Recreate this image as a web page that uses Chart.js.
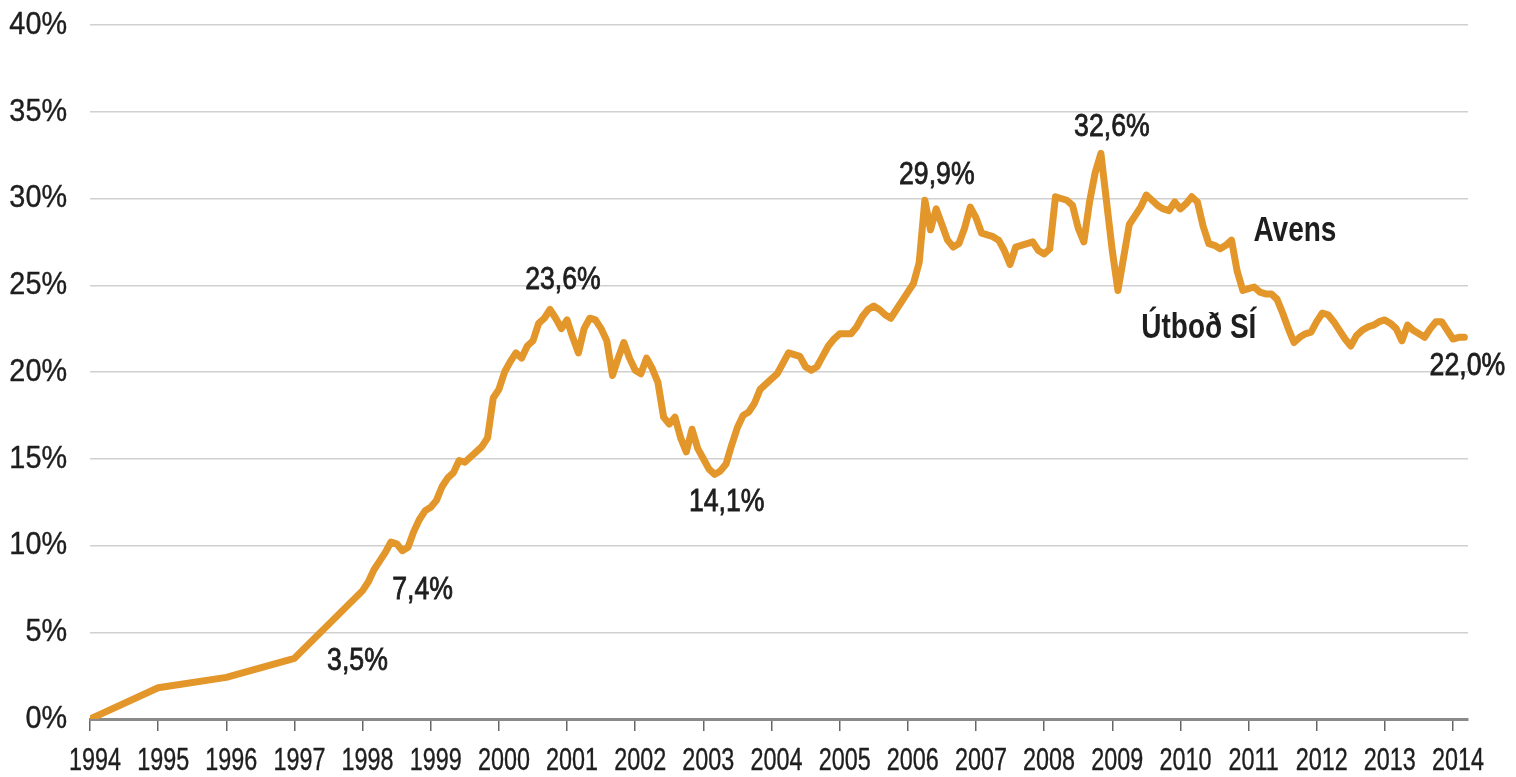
<!DOCTYPE html>
<html lang="is">
<head>
<meta charset="utf-8">
<title>Hlutdeild</title>
<script src="https://cdn.jsdelivr.net/npm/chart.js@4/dist/chart.umd.min.js"></script>
<style>
  html, body { margin: 0; background: #fff; }
  #wrap { width: 1516px; height: 777px; }
</style>
</head>
<body>
<div id="wrap"><canvas id="chart" width="1516" height="777"></canvas></div>
<script>
const months = [
  '1994-01','1995-01','1996-01','1997-01',
  '1998-01','1998-02','1998-03','1998-04','1998-05','1998-06','1998-07','1998-08','1998-09','1998-10','1998-11','1998-12',
  '1999-01','1999-02','1999-03','1999-04','1999-05','1999-06','1999-07','1999-08','1999-09','1999-10','1999-11','1999-12',
  '2000-01','2000-02','2000-03','2000-04','2000-05','2000-06','2000-07','2000-08','2000-09','2000-10','2000-11','2000-12',
  '2001-01','2001-02','2001-03','2001-04','2001-05','2001-06','2001-07','2001-08','2001-09','2001-10','2001-11','2001-12',
  '2002-01','2002-02','2002-03','2002-04','2002-05','2002-06','2002-07','2002-08','2002-09','2002-10','2002-11','2002-12',
  '2003-01','2003-02','2003-03','2003-04','2003-05','2003-06','2003-07','2003-08','2003-09','2003-10','2003-11','2003-12',
  '2004-01','2004-02','2004-03','2004-04','2004-05','2004-06','2004-07','2004-08','2004-09','2004-10','2004-11','2004-12',
  '2005-01','2005-02','2005-03','2005-04','2005-05','2005-06','2005-07','2005-08','2005-09','2005-10','2005-11','2005-12',
  '2006-01','2006-02','2006-03','2006-04','2006-05','2006-06','2006-07','2006-08','2006-09','2006-10','2006-11','2006-12',
  '2007-01','2007-02','2007-03','2007-04','2007-05','2007-06','2007-07','2007-08','2007-09','2007-10','2007-11','2007-12',
  '2008-01','2008-02','2008-03','2008-04','2008-05','2008-06','2008-07','2008-08','2008-09','2008-10','2008-11','2008-12',
  '2009-01','2009-02','2009-03','2009-04','2009-05','2009-06','2009-07','2009-08','2009-09','2009-10','2009-11','2009-12',
  '2010-01','2010-02','2010-03','2010-04','2010-05','2010-06','2010-07','2010-08','2010-09','2010-10','2010-11','2010-12',
  '2011-01','2011-02','2011-03','2011-04','2011-05','2011-06','2011-07','2011-08','2011-09','2011-10','2011-11','2011-12',
  '2012-01','2012-02','2012-03','2012-04','2012-05','2012-06','2012-07','2012-08','2012-09','2012-10','2012-11','2012-12',
  '2013-01','2013-02','2013-03','2013-04','2013-05','2013-06','2013-07','2013-08','2013-09','2013-10','2013-11','2013-12',
  '2014-01','2014-02','2014-03'
];

const share = [
  0, 1.8, 2.4, 3.5,
  7.4, 7.9, 8.6, 9.1, 9.6, 10.2, 10.1, 9.7, 9.9, 10.8, 11.5, 12.0,
  12.2, 12.6, 13.4, 13.9, 14.2, 14.9, 14.8, 15.1, 15.4, 15.7, 16.2, 18.5,
  19.0, 20.0, 20.6, 21.1, 20.8, 21.5, 21.8, 22.8, 23.1, 23.6, 23.1, 22.5,
  23.0, 22.0, 21.1, 22.5, 23.1, 23.0, 22.5, 21.8, 19.8, 20.8, 21.7, 20.8,
  20.1, 19.9, 20.8, 20.2, 19.4, 17.4, 17.0, 17.4, 16.2, 15.4, 16.7, 15.6,
  15.0, 14.4, 14.1, 14.3, 14.7, 15.8, 16.8, 17.5, 17.7, 18.2, 19.0, 19.3,
  19.6, 19.9, 20.5, 21.1, 21.0, 20.9, 20.3, 20.1, 20.3, 20.9, 21.5, 21.9,
  22.2, 22.2, 22.2, 22.6, 23.2, 23.6, 23.8, 23.6, 23.3, 23.1, 23.6, 24.1,
  24.6, 25.1, 26.3, 29.9, 28.2, 29.4, 28.5, 27.6, 27.2, 27.4, 28.3, 29.5,
  28.9, 28.0, 27.9, 27.8, 27.6, 27.0, 26.2, 27.2, 27.3, 27.4, 27.5, 27.0,
  26.8, 27.1, 30.1, 30.0, 29.9, 29.6, 28.3, 27.5, 29.8, 31.5, 32.6, 29.8,
  27.0, 24.7, 26.6, 28.5, 29.0, 29.5, 30.2, 29.9, 29.6, 29.4, 29.3, 29.8,
  29.4, 29.7, 30.1, 29.8, 28.4, 27.4, 27.3, 27.1, 27.3, 27.6, 25.8, 24.7,
  24.8, 24.9, 24.6, 24.5, 24.5, 24.2, 23.4, 22.5, 21.7, 22.0, 22.2, 22.3,
  22.9, 23.4, 23.3, 22.9, 22.4, 21.9, 21.5, 22.1, 22.4, 22.6, 22.7, 22.9,
  23.0, 22.8, 22.5, 21.8, 22.7, 22.4, 22.2, 22.0, 22.5, 22.9, 22.9, 22.4,
  21.9, 22.0, 22.0
];

const yearTicks = [1994,1995,1996,1997,1998,1999,2000,2001,2002,2003,2004,
                   2005,2006,2007,2008,2009,2010,2011,2012,2013,2014];
const pctTicks = [0, 5, 10, 15, 20, 25, 30, 35, 40];

// months whose value is written next to the line
const callouts = ['1997-01','1998-01','2000-10','2003-03','2006-04','2008-11','2014-03'];
const calloutOffset = {
  '1997-01': [63, 3], '1998-01': [60, 0], '2000-10': [13, -29], '2003-03': [12, 28],
  '2006-04': [12, -25], '2008-11': [11, -26], '2014-03': [3, 29]
};

// free text notes, placed in data units (year, percent)
const notes = [
  { text: 'Avens',    year: 2011.68, pct: 28.1 },
  { text: 'Útboð SÍ', year: 2010.27, pct: 22.5 }
];

const FONT = "'Liberation Sans', Arial, sans-serif";
const INK = '#1e1e1e';
const LINE = '#e3962a';

const toYear = (s) => { const [y, m] = s.split('-').map(Number); return y + (m - 1) / 12; };
const fmt = (v) => v.toFixed(1).replace('.', ',') + '%';

// condensed look: squeeze text horizontally around its anchor, thin stroke for weight
function narrowText(ctx, text, x, y, font, squeeze, align, heavy) {
  ctx.save();
  ctx.font = font;
  ctx.textAlign = align || 'center';
  ctx.textBaseline = 'middle';
  ctx.translate(x, y);
  ctx.scale(squeeze, 1);
  ctx.fillText(text, 0, 0);
  if (heavy) {
    ctx.lineWidth = heavy;
    ctx.strokeStyle = INK;
    ctx.strokeText(text, 0, 0);
  }
  ctx.restore();
}

const textPlugin = {
  id: 'texts',
  afterDraw(chart) {
    const { ctx, scales: { x, y }, chartArea } = chart;
    const pts = chart.getDatasetMeta(0).data;
    ctx.save();
    ctx.fillStyle = INK;

    yearTicks.forEach(v => narrowText(ctx, String(v), x.getPixelForValue(v) + 5, chartArea.bottom + 42, `32px ${FONT}`, 0.73, 'center', 0.4));
    pctTicks.forEach(v => narrowText(ctx, v + '%', 67, y.getPixelForValue(v), `32px ${FONT}`, 0.9, 'right', 0.4));

    callouts.forEach(m => {
      const i = months.indexOf(m);
      const [dx, dy] = calloutOffset[m];
      narrowText(ctx, fmt(share[i]), pts[i].x + dx, pts[i].y + dy, `31px ${FONT}`, 0.86, 'center', 0.8);
    });
    notes.forEach(n => narrowText(ctx, n.text, x.getPixelForValue(n.year), y.getPixelForValue(n.pct), `bold 35px ${FONT}`, 0.8));
    ctx.restore();
  }
};

new Chart(document.getElementById('chart'), {
  type: 'line',
  data: {
    datasets: [{
      data: months.map((m, i) => ({ x: toYear(m), y: share[i] })),
      borderColor: LINE,
      borderWidth: 7,
      borderJoinStyle: 'round',
      borderCapStyle: 'round',
      pointRadius: 0,
      tension: 0,
      fill: false
    }]
  },
  options: {
    responsive: false,
    animation: false,
    devicePixelRatio: 1,
    layout: { padding: { top: 25, right: 48, bottom: 0, left: 0 } },
    plugins: { legend: { display: false }, tooltip: { enabled: false } },
    scales: {
      x: {
        type: 'linear',
        min: 1994,
        max: 2014.22,
        afterBuildTicks: (s) => { s.ticks = yearTicks.map(v => ({ value: v })); },
        afterFit: (s) => { s.height = 58; },
        grid: { drawOnChartArea: false, drawTicks: true, tickLength: 12, color: '#666', lineWidth: 1.5 },
        border: { display: true, color: '#8a8a8a', width: 3 },
        ticks: { display: false }
      },
      y: {
        min: 0,
        max: 40,
        afterBuildTicks: (s) => { s.ticks = pctTicks.map(v => ({ value: v })); },
        afterFit: (s) => { s.width = 90; },
        grid: { drawTicks: false, color: '#d0d0d0', lineWidth: 1.5 },
        border: { display: false },
        ticks: { display: false }
      }
    }
  },
  plugins: [textPlugin]
});
</script>
</body>
</html>
